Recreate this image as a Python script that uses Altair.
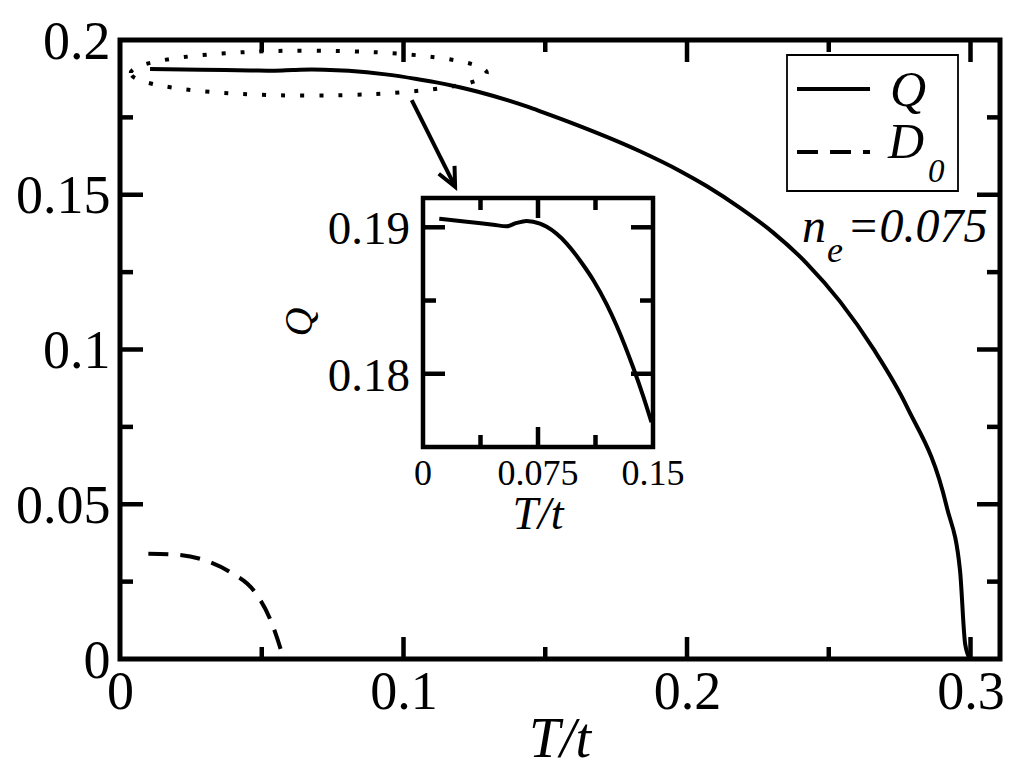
import altair as alt
import pandas as pd

# ---------------- data ----------------
Q_T = [0.0106, 0.0285, 0.0459, 0.0546, 0.0611, 0.0676, 0.0763, 0.0807, 0.0937,
       0.1046, 0.1111, 0.1198, 0.1263, 0.1372, 0.1437, 0.1490, 0.1599, 0.1834,
       0.1975, 0.2069, 0.2187, 0.2304, 0.2422, 0.2540, 0.2657, 0.2775, 0.2916,
       0.2963, 0.2981, 0.2998]
Q_V = [0.19059, 0.19038, 0.19017, 0.19007, 0.19030, 0.19043, 0.19025, 0.19003, 0.18889,
       0.18741, 0.18639, 0.18474, 0.18328, 0.18039, 0.17844, 0.17669, 0.17298, 0.16405,
       0.15770, 0.15281, 0.14573, 0.13777, 0.12786, 0.11547, 0.10026, 0.08162, 0.04919,
       0.02860, 0.00490, 0.0]

D_T = [0.0100, 0.0200, 0.0282, 0.0388, 0.0476, 0.0529, 0.0570, 0.0577]
D_V = [0.0340, 0.0337, 0.0324, 0.0281, 0.0216, 0.0130, 0.0022, 0.0]

X_LABELS = [0, 0.1, 0.2, 0.3]
Y_LABELS = [0, 0.05, 0.1, 0.15, 0.2]
X_MAJOR = [0.1, 0.2, 0.3]
X_MINOR = [0.05, 0.15, 0.25]
Y_MAJOR = [0.05, 0.1, 0.15]
Y_MINOR = [0.025, 0.075, 0.125, 0.175]

INSET_X_DOMAIN = [0, 0.15]
INSET_Y_DOMAIN = [0.175, 0.192]
INSET_X_MAJOR = [0.075]
INSET_X_MINOR = [0.0375, 0.1125]
INSET_Y_MAJOR = [0.18, 0.19]
INSET_Y_MINOR = [0.185]
INSET_X_LABEL_VALUES = [0, 0.075, 0.15]
INSET_X_LABEL_TEXT = ["0", "0.075", "0.15"]
INSET_Y_LABEL_VALUES = [0.18, 0.19]
INSET_Y_LABEL_TEXT = ["0.18", "0.19"]

ELLIPSE_T = [0.0666]
ELLIPSE_V = [0.1893]
ARROW_T0, ARROW_V0 = [0.1029], [0.1806]
ARROW_T1, ARROW_V1 = [0.1182], [0.1526]

# ---------------- layout / style ----------------
W, H = 880, 619
SERIF = "Liberation Serif, Times New Roman, Times, serif"
IX0, IX1, IY0, IY1 = 303, 533, 158, 407   # inset box in plot pixels

XS = alt.Scale(domain=[0, 0.3104], nice=False, zero=False)
YS = alt.Scale(domain=[0, 0.2], nice=False, zero=False)
IXS = alt.Scale(domain=INSET_X_DOMAIN, range=[IX0, IX1], nice=False, zero=False)
IYS = alt.Scale(domain=INSET_Y_DOMAIN, range=[IY1, IY0], nice=False, zero=False)

x_axis = alt.Axis(values=X_LABELS, format="~g", title=None, ticks=False, tickSize=0,
                  domain=False, grid=False, labelFont=SERIF, labelFontSize=54,
                  labelColor="black", labelPadding=6, labelFlush=False, labelOverlap=False)
y_axis = alt.Axis(values=Y_LABELS, format="~g", title=None, ticks=False, tickSize=0,
                  domain=False, grid=False, labelFont=SERIF, labelFontSize=54,
                  labelColor="black", labelPadding=10, labelFlush=False, labelOverlap=False,
                  labelOffset=2)


def mx(f="T"):
    return alt.X(f"{f}:Q", scale=XS, axis=x_axis)


def my(f="V"):
    return alt.Y(f"{f}:Q", scale=YS, axis=y_axis)


def ix(f="T"):
    return alt.X(f"{f}:Q", scale=IXS, axis=None)


def iy(f="V"):
    return alt.Y(f"{f}:Q", scale=IYS, axis=None)


q_df = pd.DataFrame({"T": Q_T, "V": Q_V})
d_df = pd.DataFrame({"T": D_T, "V": D_V})
one = pd.DataFrame({"k": [0]})

# ---------------- main panel ----------------
q_line = alt.Chart(q_df).mark_line(color="black", strokeWidth=4, interpolate="monotone").encode(
    x=mx(), y=my())
d_line = alt.Chart(d_df).mark_line(color="black", strokeWidth=4, strokeDash=[20, 12],
                                   interpolate="monotone").encode(x=mx(), y=my())


def xticks(vals, length):
    df = pd.DataFrame({"T": vals})
    b = alt.Chart(df).mark_rule(color="black", strokeWidth=4.5).encode(
        x=mx(), y=alt.value(H), y2=alt.value(H - length))
    t = alt.Chart(df).mark_rule(color="black", strokeWidth=4.5).encode(
        x=mx(), y=alt.value(0), y2=alt.value(length))
    return [b, t]


def yticks(vals, length):
    df = pd.DataFrame({"V": vals})
    l = alt.Chart(df).mark_rule(color="black", strokeWidth=4.5).encode(
        y=my(), x=alt.value(0), x2=alt.value(length))
    r = alt.Chart(df).mark_rule(color="black", strokeWidth=4.5).encode(
        y=my(), x=alt.value(W), x2=alt.value(W - length))
    return [l, r]


k = 0.5523
b = 0.1264
kb = k * b
ELLIPSE_PATH = (f"M -1 0 C -1 {-kb:.4f} {-k:.4f} {-b:.4f} 0 {-b:.4f} "
                f"C {k:.4f} {-b:.4f} 1 {-kb:.4f} 1 0 "
                f"C 1 {kb:.4f} {k:.4f} {b:.4f} 0 {b:.4f} "
                f"C {-k:.4f} {b:.4f} -1 {kb:.4f} -1 0 Z")
ellipse = alt.Chart(pd.DataFrame({"T": ELLIPSE_T, "V": ELLIPSE_V})).mark_point(
    shape=ELLIPSE_PATH, size=356 * 356, filled=False, color="black", strokeWidth=4,
    strokeDash=[4, 15], opacity=1).encode(x=mx(), y=my())

arrow_df = pd.DataFrame({"T0": ARROW_T0, "V0": ARROW_V0, "T1": ARROW_T1, "V1": ARROW_V1})
arrow = alt.Chart(arrow_df).mark_rule(color="black", strokeWidth=4).encode(
    x=mx("T0"), y=my("V0"), x2=alt.X2("T1:Q"), y2=alt.Y2("V1:Q"))
head = alt.Chart(arrow_df).mark_point(
    shape="M -0.42 -0.9 L 0 0 L 0.42 -0.9", size=42 * 42, angle=333.4, filled=False,
    color="black", strokeWidth=4, opacity=1, strokeJoin="miter").encode(x=mx("T1"), y=my("V1"))

# legend (drawn by hand, as in the figure)
leg_box = alt.Chart(one).mark_rect(fill="white", stroke="black", strokeWidth=1.8).encode(
    x=alt.value(667), x2=alt.value(838), y=alt.value(15), y2=alt.value(151))
leg_q = alt.Chart(one).mark_rule(color="black", strokeWidth=4).encode(
    x=alt.value(677), x2=alt.value(750), y=alt.value(49))
leg_d = alt.Chart(one).mark_rule(color="black", strokeWidth=4, strokeDash=[21, 12]).encode(
    x=alt.value(677), x2=alt.value(750), y=alt.value(112))


def label(txt, x, y, size, align="left", baseline="alphabetic", angle=0, italic=True):
    kw = dict(font=SERIF, fontSize=size, color="black", align=align, baseline=baseline)
    if italic:
        kw["fontStyle"] = "italic"
    if angle:
        kw["angle"] = angle
    return alt.Chart(pd.DataFrame({"s": [txt]})).mark_text(**kw).encode(
        x=alt.value(x), y=alt.value(y), text="s:N")


texts = [
    label("Q", 770, 66, 50),
    label("D", 768, 118, 50),
    label("0", 808, 142, 33),
    label("n", 682, 202, 48),
    label("e", 707, 222, 36),
    label("=0.075", 727, 202, 48),
    label("T/t", 440, 717, 56, align="center"),
    label("Q", 180, 282, 40, align="center", baseline="middle", angle=270),
    label("T/t", 418, 489, 46, align="center"),
]

main = alt.layer(
    q_line, d_line,
    *xticks(X_MAJOR, 22), *xticks(X_MINOR, 12),
    *yticks(Y_MAJOR, 23), *yticks(Y_MINOR, 13),
    ellipse, arrow, head,
    leg_box, leg_q, leg_d, *texts,
)

# ---------------- inset ----------------
frame_df = pd.DataFrame({"x0": [INSET_X_DOMAIN[0]], "x1": [INSET_X_DOMAIN[1]],
                         "y0": [INSET_Y_DOMAIN[0]], "y1": [INSET_Y_DOMAIN[1]]})
inset_frame = alt.Chart(frame_df).mark_rect(fill="white", stroke="black", strokeWidth=4.5).encode(
    x=ix("x0"), x2=alt.X2("x1:Q"), y=iy("y0"), y2=alt.Y2("y1:Q"))
inset_line = alt.Chart(q_df).transform_filter(f"datum.T <= {INSET_X_DOMAIN[1]}").mark_line(
    color="black", strokeWidth=4, interpolate="monotone").encode(x=ix(), y=iy())


def ixticks(vals, length):
    df = pd.DataFrame({"T": vals})
    bt = alt.Chart(df).mark_rule(color="black", strokeWidth=4.5).encode(
        x=ix(), y=alt.value(IY1), y2=alt.value(IY1 - length))
    tp = alt.Chart(df).mark_rule(color="black", strokeWidth=4.5).encode(
        x=ix(), y=alt.value(IY0), y2=alt.value(IY0 + length))
    return [bt, tp]


def iyticks(vals, length):
    df = pd.DataFrame({"V": vals})
    lf = alt.Chart(df).mark_rule(color="black", strokeWidth=4.5).encode(
        y=iy(), x=alt.value(IX0), x2=alt.value(IX0 + length))
    rt = alt.Chart(df).mark_rule(color="black", strokeWidth=4.5).encode(
        y=iy(), x=alt.value(IX1), x2=alt.value(IX1 - length))
    return [lf, rt]


ixlab = alt.Chart(pd.DataFrame({"T": INSET_X_LABEL_VALUES, "s": INSET_X_LABEL_TEXT})).mark_text(
    font=SERIF, fontSize=36, color="black", align="center", baseline="alphabetic").encode(
    x=ix(), y=alt.value(445), text="s:N")
iylab = alt.Chart(pd.DataFrame({"V": INSET_Y_LABEL_VALUES, "s": INSET_Y_LABEL_TEXT})).mark_text(
    font=SERIF, fontSize=47, color="black", align="right", baseline="middle", dy=3).encode(
    y=iy(), x=alt.value(290), text="s:N")

inset = alt.layer(
    inset_frame, inset_line,
    *ixticks(INSET_X_MAJOR, 20), *ixticks(INSET_X_MINOR, 12),
    *iyticks(INSET_Y_MAJOR, 22), *iyticks(INSET_Y_MINOR, 13),
    ixlab, iylab,
)

chart = alt.layer(main, inset).resolve_scale(x="independent", y="independent").properties(
    width=W, height=H,
    autosize=alt.AutoSizeParams(type="none"),
    padding={"left": 112, "top": 32, "right": 8, "bottom": 120},
).configure_view(stroke="black", strokeWidth=5)

chart.save("out.html", embed_options={"renderer": "svg", "actions": False})
